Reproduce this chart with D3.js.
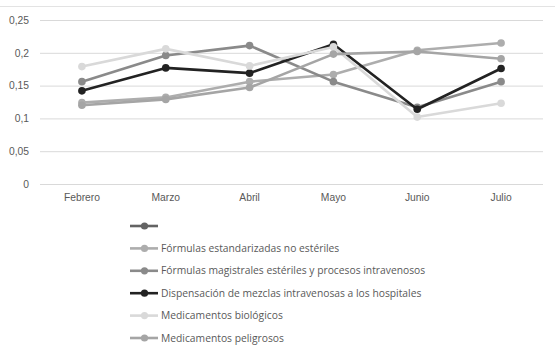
<!DOCTYPE html>
<html>
<head>
<meta charset="utf-8">
<script src="https://cdn.jsdelivr.net/npm/d3@7"></script>
<style>
  body { margin: 0; background: #fff; }
  svg { display: block; font-family: "Open Sans", sans-serif; }
</style>
</head>
<body>
<svg></svg>
<script>
const months = ["Febrero", "Marzo", "Abril", "Mayo", "Junio", "Julio"]
const yTicks = [0, 0.05, 0.1, 0.15, 0.2, 0.25]

const seriesNames = [
    "",
    "Fórmulas estandarizadas no estériles",
    "Fórmulas magistrales estériles y procesos intravenosos",
    "Dispensación de mezclas intravenosas a los hospitales",
    "Medicamentos biológicos",
    "Medicamentos peligrosos"
]
const blankSeries = []
const estandarizadas = [0.124, 0.132, 0.156, 0.167, 0.204, 0.215]
const magistrales = [0.156, 0.196, 0.211, 0.156, 0.117, 0.156]
const dispensacion = [0.142, 0.177, 0.169, 0.213, 0.114, 0.176]
const biologicos = [0.179, 0.206, 0.180, 0.209, 0.102, 0.123]
const peligrosos = [0.120, 0.129, 0.147, 0.198, 0.202, 0.191]

const seriesValues = [blankSeries, estandarizadas, magistrales, dispensacion, biologicos, peligrosos]
const seriesColors = ["#636363", "#adadad", "#8a8a8a", "#222222", "#d9d9d9", "#a5a5a5"]

function drawChart() {
    const width = 555
    const height = 356
    const plot = { left: 40, right: 543, top: 20, bottom: 184 }

    let svg = d3.select("svg")
        .attr("width", width)
        .attr("height", height)

    svg.selectAll("*").remove();

    // faint chart border at the top edge
    svg.append("line")
        .attr("x1", 0).attr("x2", width)
        .attr("y1", 6.5).attr("y2", 6.5)
        .style("stroke", "#e3e3e3")

    const xScale = d3.scaleBand()
        .domain(months)
        .range([plot.left, plot.right])

    const yScale = d3.scaleLinear()
        .domain([0, 0.25])
        .range([plot.bottom, plot.top])

    const fmt = d => String(+d.toFixed(2)).replace(".", ",")

    const yAxis = svg.append("g")
        .attr("transform", "translate(" + plot.left + ",0)")
        .call(d3.axisLeft(yScale).tickValues(yTicks).tickFormat(fmt)
            .tickSize(-(plot.right - plot.left)).tickPadding(11))
    yAxis.select(".domain").remove()
    yAxis.selectAll(".tick line").style("stroke", "#d9d9d9")
    yAxis.selectAll(".tick text").style("fill", "#595959").style("font-size", "10.3px")

    const xAxis = svg.append("g")
        .attr("transform", "translate(0," + plot.bottom + ")")
        .call(d3.axisBottom(xScale).tickSize(0).tickPadding(10))
    xAxis.select(".domain").remove()
    xAxis.selectAll(".tick text").style("fill", "#595959").style("font-size", "10.3px")

    const line = d3.line()
        .x((d, i) => xScale(months[i]) + xScale.bandwidth() / 2)
        .y(d => yScale(d))

    seriesValues.forEach(function (vals, s) {
        const g = svg.append("g")
        g.append("path")
            .datum(vals)
            .attr("d", vals.length ? line(vals) : null)
            .style("fill", "none")
            .style("stroke", seriesColors[s])
            .style("stroke-width", 2.6)
            .style("stroke-linejoin", "round")
        g.selectAll("circle")
            .data(vals)
            .enter()
            .append("circle")
            .attr("cx", (d, i) => xScale(months[i]) + xScale.bandwidth() / 2)
            .attr("cy", d => yScale(d))
            .attr("r", 3.8)
            .style("fill", seriesColors[s])
    })

    // legend
    const legend = svg.append("g")
    seriesNames.forEach(function (name, i) {
        const y = 226 + i * 22.4
        legend.append("line")
            .attr("x1", 130).attr("x2", 158)
            .attr("y1", y).attr("y2", y)
            .style("stroke", seriesColors[i])
            .style("stroke-width", 2.6)
        legend.append("circle")
            .attr("cx", 144.5).attr("cy", y).attr("r", 3.6)
            .style("fill", seriesColors[i])
        legend.append("text")
            .attr("x", 161).attr("y", y)
            .attr("dy", "0.35em")
            .style("fill", "#595959")
            .style("font-size", "10.3px")
            .text(name)
    })
}

drawChart()
</script>
</body>
</html>
